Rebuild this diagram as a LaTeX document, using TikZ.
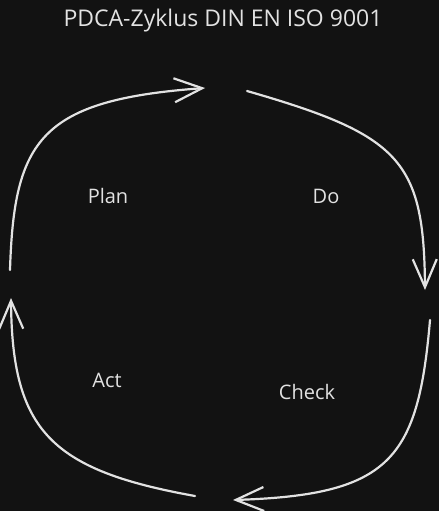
\documentclass[tikz,border=0pt]{standalone}
\usepackage{fontspec}
\setmainfont{Open Sans}
\usepackage{xcolor}
\usetikzlibrary{arrows.meta,positioning}
\definecolor{bgdark}{HTML}{121212}
\definecolor{chalk}{HTML}{E2E2E2}
\tikzset{
  cyclearrow/.style={draw=chalk, line width=2.2pt, line cap=round,
    -{Straight Barb[length=28pt,width=24pt,line width=2.2pt]}},
  phaselabel/.style={text=chalk, font=\fontsize{20}{24}\selectfont, inner sep=0pt},
  titlelabel/.style={phaselabel, font=\fontsize{23}{27}\selectfont},
}
\begin{document}
\begin{tikzpicture}[x=1pt,y=-1pt]
\fill[bgdark] (0,0) rectangle (439,511);
\useasboundingbox (0,0) rectangle (439,511);

\node[titlelabel] (title) at (223,21) {PDCA-Zyklus DIN EN ISO 9001};

\node[phaselabel] (plan)  at (108,196) {Plan};
\node[phaselabel] (do)    at (326,196) {Do};
\node[phaselabel] (act)   at (107,380) {Act};
\node[phaselabel] (check) at (307,392) {Check};

% ends of the cycle arrows
\coordinate (planS)  at (10,270);
\coordinate (planE)  at (205,88);
\coordinate (doS)    at (247,91);
\coordinate (doE)    at (425,290);
\coordinate (checkS) at (430,320);
\coordinate (checkE) at (233,500);
\coordinate (actS)   at (195,496);
\coordinate (actE)   at (11,298);

\draw [cyclearrow] (planS) .. controls (14,140) and (40,100) .. (planE);
\draw [cyclearrow] (doS) .. controls (400,135) and (424,160) .. (doE);
\draw [cyclearrow] (checkS) .. controls (418,460) and (390,495) .. (checkE);
\draw [cyclearrow] (actS) .. controls (50,470) and (12,430) .. (actE);
\end{tikzpicture}
\end{document}
